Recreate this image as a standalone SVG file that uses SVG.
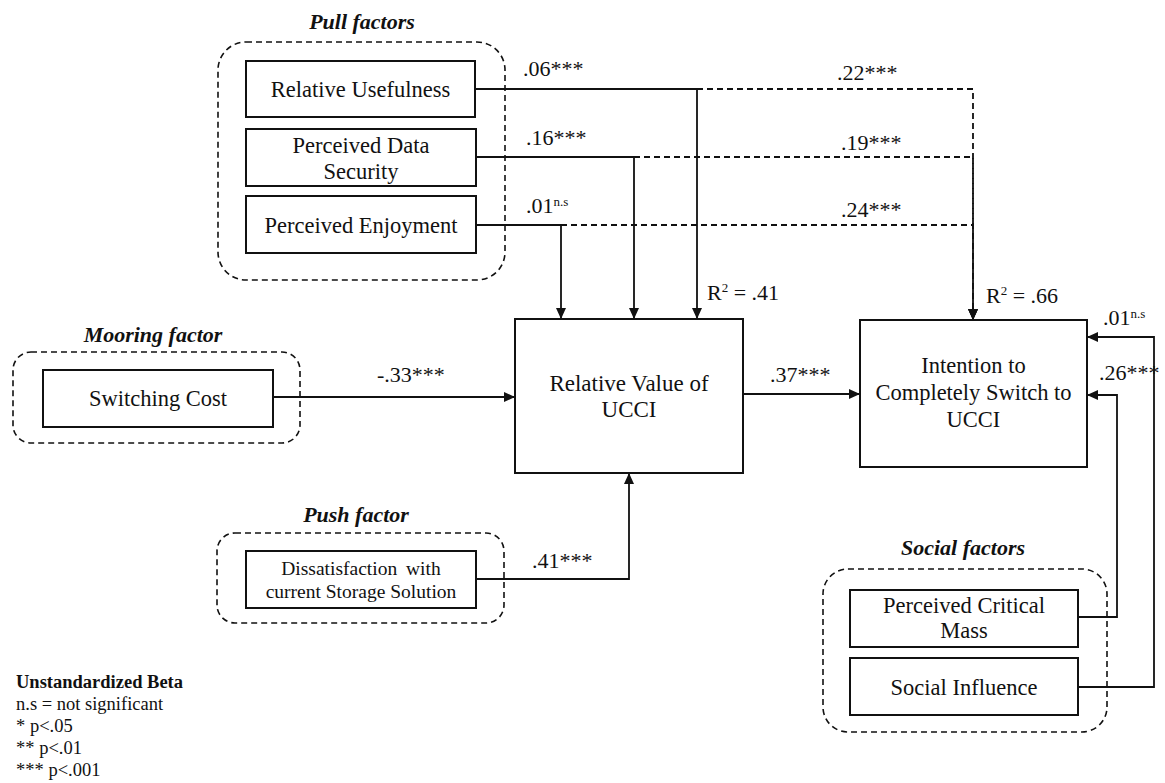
<svg xmlns="http://www.w3.org/2000/svg" width="1165" height="783" viewBox="0 0 1165 783">
  <style>
    text { font-family: "Liberation Serif", "Times New Roman", serif; fill: #111; }
    .node { fill: #fff; stroke: #111; stroke-width: 2; }
    .label { font-size: 22.5px; text-anchor: middle; }
    .small { font-size: 19.5px; text-anchor: middle; }
    .group { fill: none; stroke: #111; stroke-width: 1.6; stroke-dasharray: 6 4; }
    .title { font-size: 22px; font-weight: bold; font-style: italic; text-anchor: middle; }
    .coef { font-size: 22px; }
    .sup { font-size: 13px; }
    .solid { fill: none; stroke: #111; stroke-width: 1.8; }
    .dash { fill: none; stroke: #111; stroke-width: 1.8; stroke-dasharray: 6 4; }
    .legend { font-size: 18.5px; }
  </style>
  <defs>
    <marker id="arrow" markerUnits="userSpaceOnUse" markerWidth="12" markerHeight="10" refX="11" refY="5" orient="auto">
      <path d="M0,0 L11,5 L0,10 Z" fill="#111"/>
    </marker>
  </defs>

  <!-- factor groups -->
  <g id="group-pull">
    <rect class="group" x="218" y="42" width="287" height="238" rx="28"/>
    <text class="title" x="362" y="29">Pull factors</text>
  </g>
  <g id="group-mooring">
    <rect class="group" x="13" y="352" width="287" height="91" rx="18"/>
    <text class="title" x="153" y="342">Mooring factor</text>
  </g>
  <g id="group-push">
    <rect class="group" x="217" y="533" width="287" height="90" rx="18"/>
    <text class="title" x="356" y="522">Push factor</text>
  </g>
  <g id="group-social">
    <rect class="group" x="823" y="569" width="284" height="163" rx="25"/>
    <text class="title" x="963" y="555">Social factors</text>
  </g>

  <!-- connectors -->
  <g id="connectors">
    <!-- pull factors to relative value -->
    <path class="solid" d="M475,89 H697 V319" marker-end="url(#arrow)"/>
    <path class="solid" d="M476,157 H634 V319" marker-end="url(#arrow)"/>
    <path class="solid" d="M476,225 H561 V319" marker-end="url(#arrow)"/>
    <!-- pull factors to intention -->
    <path class="dash" d="M697,89 H973 V320" marker-end="url(#arrow)"/>
    <path class="dash" d="M634,157 H973 V320" marker-end="url(#arrow)"/>
    <path class="dash" d="M561,225 H973 V320" marker-end="url(#arrow)"/>
    <!-- mooring -->
    <path class="solid" d="M273,397 H515" marker-end="url(#arrow)"/>
    <!-- push -->
    <path class="solid" d="M476,579 H629 V473" marker-end="url(#arrow)"/>
    <!-- relative value to intention -->
    <path class="solid" d="M743,394 H860" marker-end="url(#arrow)"/>
    <!-- social factors -->
    <path class="solid" d="M1078,687 H1154 V337 H1087" marker-end="url(#arrow)"/>
    <path class="solid" d="M1078,617 H1117 V395 H1087" marker-end="url(#arrow)"/>

    <!-- coefficients -->
    <text class="coef" x="523" y="76">.06***</text>
    <text class="coef" x="526" y="145">.16***</text>
    <text class="coef" x="526" y="213">.01<tspan class="sup" dy="-7">n.s</tspan></text>
    <text class="coef" x="837" y="80">.22***</text>
    <text class="coef" x="841" y="150">.19***</text>
    <text class="coef" x="841" y="217">.24***</text>
    <text class="coef" x="377" y="382">-.33***</text>
    <text class="coef" x="532" y="568">.41***</text>
    <text class="coef" x="770" y="382">.37***</text>
    <text class="coef" x="1103" y="325">.01<tspan class="sup" dy="-7">n.s</tspan></text>
    <text class="coef" x="1099" y="380">.26***</text>
    <text class="coef" x="707" y="300">R<tspan class="sup" dy="-8">2</tspan><tspan dy="8"> = .41</tspan></text>
    <text class="coef" x="986" y="303">R<tspan class="sup" dy="-8">2</tspan><tspan dy="8"> = .66</tspan></text>
  </g>

  <!-- nodes -->
  <g id="relative-usefulness">
    <rect class="node" x="246" y="61" width="229" height="56"/>
    <text class="label" x="360.5" y="97">Relative Usefulness</text>
  </g>
  <g id="perceived-data-security">
    <rect class="node" x="246" y="129" width="230" height="57"/>
    <text class="label" x="361" y="153">Perceived Data</text>
    <text class="label" x="361" y="179">Security</text>
  </g>
  <g id="perceived-enjoyment">
    <rect class="node" x="246" y="196" width="230" height="57"/>
    <text class="label" x="361" y="233">Perceived Enjoyment</text>
  </g>
  <g id="switching-cost">
    <rect class="node" x="43" y="370" width="230" height="57"/>
    <text class="label" x="158" y="406">Switching Cost</text>
  </g>
  <g id="dissatisfaction">
    <rect class="node" x="246" y="551" width="230" height="57"/>
    <text class="small" x="361" y="575" style="word-spacing:4px">Dissatisfaction with</text>
    <text class="small" x="361" y="598">current Storage Solution</text>
  </g>
  <g id="relative-value">
    <rect class="node" x="515" y="319" width="228" height="154"/>
    <text class="label" x="629" y="391" style="font-size:23px">Relative Value of</text>
    <text class="label" x="629" y="417" style="font-size:23px">UCCI</text>
  </g>
  <g id="intention">
    <rect class="node" x="860" y="320" width="227" height="147"/>
    <text class="label" x="973.5" y="373">Intention to</text>
    <text class="label" x="973.5" y="400">Completely Switch to</text>
    <text class="label" x="973.5" y="427">UCCI</text>
  </g>
  <g id="perceived-critical-mass">
    <rect class="node" x="850" y="590" width="228" height="57"/>
    <text class="label" x="964" y="613">Perceived Critical</text>
    <text class="label" x="964" y="638">Mass</text>
  </g>
  <g id="social-influence">
    <rect class="node" x="850" y="658" width="228" height="57"/>
    <text class="label" x="964" y="695">Social Influence</text>
  </g>

  <!-- legend -->
  <g id="legend" class="legend">
    <text x="16" y="688" style="font-weight:bold">Unstandardized Beta</text>
    <text x="16" y="710">n.s = not significant</text>
    <text x="16" y="732">* p&lt;.05</text>
    <text x="16" y="754">** p&lt;.01</text>
    <text x="16" y="776">*** p&lt;.001</text>
  </g>
</svg>
